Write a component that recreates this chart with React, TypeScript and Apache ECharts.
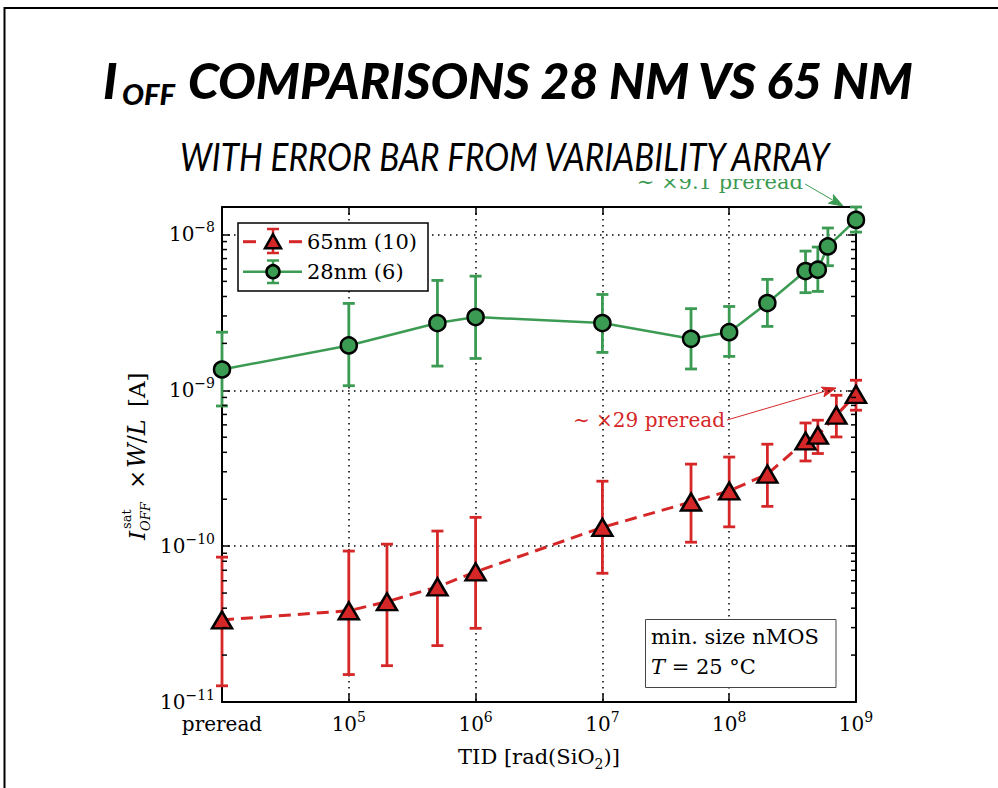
import React, { useEffect, useRef } from 'react';
import * as echarts from 'echarts';

const SERIF = '"DejaVu Serif", "Liberation Serif", serif';
const SANS = 'Lato, "Open Sans", "Noto Sans", sans-serif';
const RED = '#d62728';
const GREEN = '#3c9b53';

// 65 nm data (TID in rad(SiO2), preread placed at 1e4)
const dose65 = [1e4, 1e5, 2e5, 5e5, 1e6, 1e7, 5e7, 1e8, 2e8, 4e8, 5e8, 7e8, 1e9];
const ioff65 = [3.36e-11, 3.85e-11, 4.4e-11, 5.48e-11, 6.84e-11, 1.32e-10, 1.92e-10, 2.26e-10, 2.9e-10, 4.73e-10, 5.15e-10, 6.92e-10, 9.42e-10];
const low65 = [1.27e-11, 1.5e-11, 1.71e-11, 2.3e-11, 2.97e-11, 6.7e-11, 1.06e-10, 1.33e-10, 1.8e-10, 3.52e-10, 3.93e-10, 5.02e-10, 7.45e-10];
const high65 = [8.5e-11, 9.3e-11, 1.03e-10, 1.25e-10, 1.53e-10, 2.61e-10, 3.36e-10, 3.73e-10, 4.51e-10, 6.17e-10, 6.43e-10, 9.29e-10, 1.16e-9];

// 28 nm data
const dose28 = [1e4, 1e5, 5e5, 1e6, 1e7, 5e7, 1e8, 2e8, 4e8, 5e8, 6e8, 1e9];
const ioff28 = [1.36e-9, 1.94e-9, 2.7e-9, 2.95e-9, 2.7e-9, 2.14e-9, 2.36e-9, 3.63e-9, 5.82e-9, 5.94e-9, 8.38e-9, 1.24e-8];
const low28 = [7.93e-10, 1.07e-9, 1.43e-9, 1.6e-9, 1.75e-9, 1.37e-9, 1.65e-9, 2.57e-9, 4.23e-9, 4.31e-9, 6.3e-9, 1.035e-8];
const high28 = [2.36e-9, 3.61e-9, 5.07e-9, 5.4e-9, 4.12e-9, 3.34e-9, 3.45e-9, 5.15e-9, 7.82e-9, 8.3e-9, 1.1e-8, 1.5e-8];

const xMin = 1e4;
const xMax = 1e9;
const yMin = 1e-11;
const yMax = 1.5e-8;
const xTickLabels = ['preread', '10^5', '10^6', '10^7', '10^8', '10^9'];
const yTickLabels = ['10^-11', '10^-10', '10^-9', '10^-8'];
const yDecades = [1e-11, 1e-10, 1e-9, 1e-8];
const yMinorSteps = [2, 3, 4, 5, 6, 7, 8, 9];

const seriesNames = ['65nm (10)', '28nm (6)'];

function toRich(label: string | undefined): string {
  if (!label) return '';
  const parts = label.split('^');
  if (parts.length < 2) return `{n|${label}}`;
  return `{b|${parts[0]}}{s|${parts[1].replace('-', '\u2212')}}`;
}

function measure(text: string, font: string): number {
  const c = document.createElement('canvas').getContext('2d');
  if (!c) return 1;
  c.font = font;
  return c.measureText(text).width || 1;
}

const tickRich = {
  b: { fontFamily: SERIF, fontSize: 20, lineHeight: 28, color: '#000' },
  s: { fontFamily: SERIF, fontSize: 14, lineHeight: 14, verticalAlign: 'top', color: '#000' },
  n: { fontFamily: SERIF, fontSize: 20, lineHeight: 28, color: '#000' },
};

function errRender(color: string, lw: number) {
  return (params: any, api: any) => {
    const x = api.value(0);
    const lo = api.coord([x, api.value(1)]);
    const hi = api.coord([x, api.value(2)]);
    const hw = 6;
    const style = { stroke: color, lineWidth: lw, fill: 'none' };
    return {
      type: 'group',
      children: [
        { type: 'line', shape: { x1: lo[0], y1: lo[1], x2: hi[0], y2: hi[1] }, style },
        { type: 'line', shape: { x1: lo[0] - hw, y1: lo[1], x2: lo[0] + hw, y2: lo[1] }, style },
        { type: 'line', shape: { x1: hi[0] - hw, y1: hi[1], x2: hi[0] + hw, y2: hi[1] }, style },
      ],
    };
  };
}

function arrow(x1: number, y1: number, x2: number, y2: number, color: string, lw: number, headL: number, headW: number) {
  const dx = x2 - x1;
  const dy = y2 - y1;
  const len = Math.sqrt(dx * dx + dy * dy);
  const ux = dx / len;
  const uy = dy / len;
  const bx = x2 - ux * headL;
  const by = y2 - uy * headL;
  const px = -uy * headW;
  const py = ux * headW;
  return [
    { type: 'line', shape: { x1, y1, x2: bx + ux * 2, y2: by + uy * 2 }, style: { stroke: color, lineWidth: lw } },
    {
      type: 'polygon',
      shape: { points: [[x2, y2], [bx + px, by + py], [bx + ux * 3, by + uy * 3], [bx - px, by - py]] },
      style: { fill: color, stroke: color, lineWidth: 1 },
    },
  ];
}

export default function App() {
  const ref = useRef<HTMLDivElement>(null);

  useEffect(() => {
    if (!ref.current) return;
    const chart = echarts.init(ref.current, null, { renderer: 'svg' });

    const titleFont = `italic 900 50px ${SANS}`;
    const subFont = `italic 900 28px ${SANS}`;
    const subtitleFont = `italic 400 38px ${SANS}`;
    const titleMain = 'COMPARISONS 28 NM VS 65 NM';
    const subtitle = 'WITH ERROR BAR FROM VARIABILITY ARRAY';
    const sMain = 727 / measure(titleMain, titleFont);
    const sOff = 53 / measure('OFF', subFont);
    const sSub = 653 / measure(subtitle, subtitleFont);

    const minorData: number[][] = [];
    yDecades.forEach((d) => yMinorSteps.forEach((s) => {
      const v = s * d;
      if (v < yMax) minorData.push([xMin, v]);
    }));

    const axisCommon = {
      type: 'log',
      logBase: 10,
      axisLine: { show: true, onZero: false, lineStyle: { color: '#000', width: 2 } },
      axisTick: { show: true, inside: true, length: 8, lineStyle: { color: '#000', width: 1.5 } },
      minorTick: { show: false },
      splitLine: { show: false },
    };

    const legendX = 238;
    const legendY = 223;
    const r1 = 241.7;
    const r2 = 271.7;
    const mx = 273;

    const graphics: any[] = [
      // slide frame
      { type: 'rect', silent: true, shape: { x: 4.5, y: 8, width: 1300, height: 1000 }, style: { fill: 'none', stroke: '#000', lineWidth: 2 } },
      // green annotation (partially cropped at the top, as in the slide)
      { type: 'text', x: 803, y: 182, style: { text: '\u223C \u00D79.1 preread', font: `21px ${SERIF}`, fill: GREEN, align: 'right', verticalAlign: 'middle' } },
      ...arrow(805, 184, 843, 206, GREEN, 1, 14, 5),
      { type: 'rect', silent: true, shape: { x: 560, y: 120, width: 320, height: 59 }, style: { fill: '#fff' } },
      // title
      { type: 'text', x: 103, y: 80, style: { text: 'I', font: titleFont, fill: '#000', verticalAlign: 'middle' } },
      { type: 'text', x: 122, y: 94, scaleX: sOff, style: { text: 'OFF', font: subFont, fill: '#000', verticalAlign: 'middle' } },
      { type: 'text', x: 188, y: 80, scaleX: sMain, style: { text: titleMain, font: titleFont, fill: '#000', verticalAlign: 'middle' } },
      { type: 'text', x: 180, y: 156.5, scaleX: sSub, style: { text: subtitle, font: subtitleFont, fill: '#000', verticalAlign: 'middle' } },
      // red annotation
      { type: 'text', x: 725, y: 420, style: { text: '\u223C \u00D729 preread', font: `20px ${SERIF}`, fill: RED, align: 'right', verticalAlign: 'middle' } },
      ...arrow(727, 420, 836, 388, RED, 1, 14, 5),
      // legend
      { type: 'rect', z: 100, shape: { x: legendX, y: legendY, width: 190, height: 68 }, style: { fill: '#fff', stroke: '#000', lineWidth: 1.5 } },
      { type: 'line', z: 101, shape: { x1: 243, y1: r1, x2: 256, y2: r1 }, style: { stroke: RED, lineWidth: 3 } },
      { type: 'line', z: 101, shape: { x1: 289, y1: r1, x2: 302, y2: r1 }, style: { stroke: RED, lineWidth: 3 } },
      { type: 'line', z: 101, shape: { x1: mx, y1: 229, x2: mx, y2: 253 }, style: { stroke: RED, lineWidth: 2.5 } },
      { type: 'line', z: 101, shape: { x1: mx - 6, y1: 229, x2: mx + 6, y2: 229 }, style: { stroke: RED, lineWidth: 2.5 } },
      { type: 'line', z: 101, shape: { x1: mx - 6, y1: 253, x2: mx + 6, y2: 253 }, style: { stroke: RED, lineWidth: 2.5 } },
      { type: 'polygon', z: 102, shape: { points: [[mx, r1 - 7.5], [mx - 8, r1 + 6.5], [mx + 8, r1 + 6.5]] }, style: { fill: RED, stroke: '#000', lineWidth: 2.5 } },
      { type: 'text', z: 102, x: 307, y: r1, style: { text: seriesNames[0], font: `21px ${SERIF}`, fill: '#000', verticalAlign: 'middle' } },
      { type: 'line', z: 101, shape: { x1: 243, y1: r2, x2: 302, y2: r2 }, style: { stroke: GREEN, lineWidth: 2.5 } },
      { type: 'line', z: 101, shape: { x1: mx, y1: 260.5, x2: mx, y2: 283 }, style: { stroke: GREEN, lineWidth: 2.5 } },
      { type: 'line', z: 101, shape: { x1: mx - 6, y1: 260.5, x2: mx + 6, y2: 260.5 }, style: { stroke: GREEN, lineWidth: 2.5 } },
      { type: 'line', z: 101, shape: { x1: mx - 6, y1: 283, x2: mx + 6, y2: 283 }, style: { stroke: GREEN, lineWidth: 2.5 } },
      { type: 'circle', z: 102, shape: { cx: mx, cy: r2, r: 6.5 }, style: { fill: GREEN, stroke: '#000', lineWidth: 2.5 } },
      { type: 'text', z: 102, x: 307, y: r2, style: { text: seriesNames[1], font: `21px ${SERIF}`, fill: '#000', verticalAlign: 'middle' } },
      // condition box
      { type: 'rect', z: 100, shape: { x: 645.5, y: 619.5, width: 190.5, height: 68 }, style: { fill: '#fff', stroke: '#444', lineWidth: 1 } },
      { type: 'text', z: 101, x: 651, y: 637, style: { text: 'min. size nMOS', font: `21px ${SERIF}`, fill: '#000', verticalAlign: 'middle' } },
      {
        type: 'text', z: 101, x: 651, y: 667,
        style: {
          text: '{i|T}{n| = 25 \u00B0C}', verticalAlign: 'middle',
          rich: {
            i: { fontFamily: SERIF, fontStyle: 'italic', fontSize: 21, fill: '#000' },
            n: { fontFamily: SERIF, fontSize: 21, fill: '#000' },
          },
        },
      },
      // y-axis title (rotated)
      {
        type: 'group', x: 137, y: 540, rotation: Math.PI / 2,
        children: [
          { type: 'text', x: 0, y: 0, style: { text: 'I', font: `italic 23px ${SERIF}`, fill: '#000', verticalAlign: 'middle' } },
          { type: 'text', x: 11, y: -11, style: { text: 'sat', font: `13px ${SERIF}`, fill: '#000', verticalAlign: 'middle' } },
          { type: 'text', x: 9, y: 8, style: { text: 'OFF', font: `italic 13px ${SERIF}`, fill: '#000', verticalAlign: 'middle' } },
          { type: 'text', x: 51, y: 0, style: { text: '\u00D7', font: `23px ${SERIF}`, fill: '#000', verticalAlign: 'middle' } },
          {
            type: 'text', x: 72, y: 0,
            style: {
              text: '{i|W}{n|/}{i|L}', verticalAlign: 'middle',
              rich: {
                i: { fontFamily: SERIF, fontStyle: 'italic', fontSize: 24, fill: '#000' },
                n: { fontFamily: SERIF, fontSize: 24, fill: '#000' },
              },
            },
          },
          { type: 'text', x: 133, y: 0, style: { text: '[A]', font: `23px ${SERIF}`, fill: '#000', verticalAlign: 'middle' } },
        ],
      },
    ];

    const option: any = {
      animation: false,
      backgroundColor: '#fff',
      grid: { left: 222, right: 142, top: 207, bottom: 86, containLabel: false, outerBoundsMode: 'none' },
      xAxis: [
        {
          ...axisCommon,
          position: 'bottom',
          min: xMin,
          max: xMax,
          axisLabel: {
            margin: 8,
            showMinLabel: true,
            showMaxLabel: true,
            formatter: (v: number) => toRich(xTickLabels[Math.round(Math.log10(v)) - 4]),
            rich: tickRich,
          },
          splitLine: { show: true, lineStyle: { color: '#000', width: 1.5, type: [1.5, 4.5] } },
          name: '{n|TID [rad(SiO}{sub|2}{n|)]}',
          nameLocation: 'middle',
          nameGap: 41,
          nameTextStyle: {
            rich: {
              n: { fontFamily: SERIF, fontSize: 21, lineHeight: 28, color: '#000' },
              sub: { fontFamily: SERIF, fontSize: 14, lineHeight: 16, verticalAlign: 'bottom', color: '#000' },
            },
          },
        },
        { ...axisCommon, position: 'top', min: xMin, max: xMax, axisLabel: { show: false } },
      ],
      yAxis: [
        {
          ...axisCommon,
          position: 'left',
          min: yMin,
          max: yMax,
          axisLabel: {
            margin: 7,
            showMinLabel: true,
            formatter: (v: number) => {
              const e = Math.log10(v);
              if (Math.abs(e - Math.round(e)) > 1e-6) return '';
              return toRich(yTickLabels[Math.round(e) + 11]);
            },
            rich: tickRich,
          },
          splitLine: { show: true, lineStyle: { color: '#000', width: 1.5, type: [1.5, 4.5] } },
        },
        { ...axisCommon, position: 'right', min: yMin, max: yMax, axisLabel: { show: false } },
      ],
      series: [
        {
          type: 'custom',
          name: 'minor ticks',
          silent: true,
          z: 6,
          data: minorData,
          renderItem: (params: any, api: any) => {
            const y = api.coord([api.value(0), api.value(1)])[1];
            const cs = params.coordSys;
            const st = { stroke: '#000', lineWidth: 1.5 };
            return {
              type: 'group',
              children: [
                { type: 'line', shape: { x1: cs.x, y1: y, x2: cs.x + 5, y2: y }, style: st },
                { type: 'line', shape: { x1: cs.x + cs.width - 5, y1: y, x2: cs.x + cs.width, y2: y }, style: st },
              ],
            };
          },
        },
        {
          type: 'custom',
          name: seriesNames[0] + ' err',
          z: 2,
          clip: false,
          encode: { x: 0, y: [1, 2] },
          data: dose65.map((d, i) => [d, low65[i], high65[i]]),
          renderItem: errRender(RED, 2.8),
        },
        {
          type: 'line',
          name: seriesNames[0],
          z: 3,
          data: dose65.map((d, i) => [d, ioff65[i]]),
          symbol: 'triangle',
          symbolSize: [20, 17],
          itemStyle: { color: RED, borderColor: '#000', borderWidth: 2.5 },
          lineStyle: { color: RED, width: 3, type: [12, 7] },
        },
        {
          type: 'custom',
          name: seriesNames[1] + ' err',
          z: 4,
          clip: false,
          encode: { x: 0, y: [1, 2] },
          data: dose28.map((d, i) => [d, low28[i], high28[i]]),
          renderItem: errRender(GREEN, 2.8),
        },
        {
          type: 'line',
          name: seriesNames[1],
          z: 5,
          data: dose28.map((d, i) => [d, ioff28[i]]),
          symbol: 'circle',
          symbolSize: 16,
          itemStyle: { color: GREEN, borderColor: '#000', borderWidth: 2.5 },
          lineStyle: { color: GREEN, width: 2.5 },
        },
      ],
      graphic: { elements: graphics },
    };

    chart.setOption(option);
    return () => chart.dispose();
  }, []);

  return <div ref={ref} style={{ position: 'absolute', left: 0, top: 0, width: 998, height: 788 }} />;
}
